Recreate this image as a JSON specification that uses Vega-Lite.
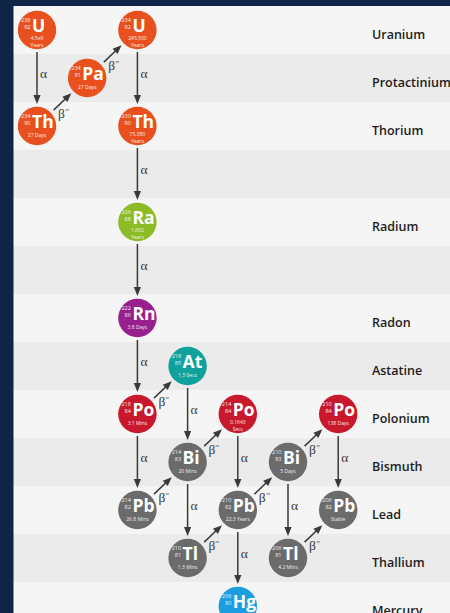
{
  "$schema": "https://vega.github.io/schema/vega-lite/v6.json",
  "width": 450,
  "height": 613,
  "padding": 0,
  "autosize": {"type": "none"},
  "background": "#0e2547",
  "config": {"view": {"stroke": null}},
  "datasets": {
    "rows": [
      {"row": 0, "label": "Uranium"},
      {"row": 1, "label": "Protactinium"},
      {"row": 2, "label": "Thorium"},
      {"row": 3, "label": ""},
      {"row": 4, "label": "Radium"},
      {"row": 5, "label": ""},
      {"row": 6, "label": "Radon"},
      {"row": 7, "label": "Astatine"},
      {"row": 8, "label": "Polonium"},
      {"row": 9, "label": "Bismuth"},
      {"row": 10, "label": "Lead"},
      {"row": 11, "label": "Thallium"},
      {"row": 12, "label": "Mercury"}
    ],
    "nuclides": [
      {"sym": "U", "mass": "238", "z": "92", "hl": "4.5e9\nYears", "col": 0, "row": 0, "element": "Uranium"},
      {"sym": "Th", "mass": "234", "z": "90", "hl": "27 Days", "col": 0, "row": 2, "element": "Thorium"},
      {"sym": "Pa", "mass": "234", "z": "91", "hl": "27 Days", "col": 1, "row": 1, "element": "Protactinium"},
      {"sym": "U", "mass": "234", "z": "92", "hl": "245,500\nYears", "col": 2, "row": 0, "element": "Uranium"},
      {"sym": "Th", "mass": "230", "z": "90", "hl": "75,380\nYears", "col": 2, "row": 2, "element": "Thorium"},
      {"sym": "Ra", "mass": "226", "z": "88", "hl": "1,602\nYears", "col": 2, "row": 4, "element": "Radium"},
      {"sym": "Rn", "mass": "222", "z": "86", "hl": "3.8 Days", "col": 2, "row": 6, "element": "Radon"},
      {"sym": "Po", "mass": "218", "z": "84", "hl": "3.1 Mins", "col": 2, "row": 8, "element": "Polonium"},
      {"sym": "At", "mass": "218", "z": "85", "hl": "1.5 Secs", "col": 3, "row": 7, "element": "Astatine"},
      {"sym": "Pb", "mass": "214", "z": "82", "hl": "26.8 Mins", "col": 2, "row": 10, "element": "Lead"},
      {"sym": "Bi", "mass": "214", "z": "83", "hl": "20 Mins", "col": 3, "row": 9, "element": "Bismuth"},
      {"sym": "Po", "mass": "214", "z": "84", "hl": "0.1643\nSecs", "col": 4, "row": 8, "element": "Polonium"},
      {"sym": "Tl", "mass": "210", "z": "81", "hl": "1.3 Mins", "col": 3, "row": 11, "element": "Thallium"},
      {"sym": "Pb", "mass": "210", "z": "82", "hl": "22.3 Years", "col": 4, "row": 10, "element": "Lead"},
      {"sym": "Bi", "mass": "210", "z": "83", "hl": "5 Days", "col": 5, "row": 9, "element": "Bismuth"},
      {"sym": "Hg", "mass": "206", "z": "80", "hl": "", "col": 4, "row": 12, "element": "Mercury"},
      {"sym": "Po", "mass": "210", "z": "84", "hl": "138 Days", "col": 6, "row": 8, "element": "Polonium"},
      {"sym": "Tl", "mass": "206", "z": "81", "hl": "4.2 Mins", "col": 5, "row": 11, "element": "Thallium"},
      {"sym": "Pb", "mass": "206", "z": "82", "hl": "Stable", "col": 6, "row": 10, "element": "Lead"}
    ],
    "alpha": [
      {"col": 0, "r1": 0, "r2": 2},
      {"col": 2, "r1": 0, "r2": 2},
      {"col": 2, "r1": 2, "r2": 4},
      {"col": 2, "r1": 4, "r2": 6},
      {"col": 2, "r1": 6, "r2": 8},
      {"col": 2, "r1": 8, "r2": 10},
      {"col": 3, "r1": 7, "r2": 9},
      {"col": 3, "r1": 9, "r2": 11},
      {"col": 4, "r1": 8, "r2": 10},
      {"col": 4, "r1": 10, "r2": 12},
      {"col": 5, "r1": 9, "r2": 11},
      {"col": 6, "r1": 8, "r2": 10}
    ],
    "beta": [
      {"c1": 0, "r1": 2, "c2": 1, "r2": 1},
      {"c1": 1, "r1": 1, "c2": 2, "r2": 0},
      {"c1": 2, "r1": 8, "c2": 3, "r2": 7},
      {"c1": 2, "r1": 10, "c2": 3, "r2": 9},
      {"c1": 3, "r1": 9, "c2": 4, "r2": 8},
      {"c1": 3, "r1": 11, "c2": 4, "r2": 10},
      {"c1": 4, "r1": 10, "c2": 5, "r2": 9},
      {"c1": 5, "r1": 9, "c2": 6, "r2": 8},
      {"c1": 5, "r1": 11, "c2": 6, "r2": 10}
    ]
  },
  "layer": [
    {
      "data": {"name": "rows"},
      "mark": {"type": "rect", "yOffset": -24, "y2Offset": 24},
      "encoding": {
        "x": {"datum": -0.468, "type": "quantitative", "scale": {"domain": [-0.737, 8.227], "nice": false, "zero": false}, "axis": null},
        "x2": {"datum": 8.3},
        "y": {"field": "row", "type": "quantitative", "scale": {"domain": [-0.625, 12.146], "reverse": true, "nice": false, "zero": false}, "axis": null},
        "y2": {"field": "row"},
        "color": {"condition": {"test": "datum.row % 2 === 1", "value": "#ebebeb"}, "value": "#f5f5f5"}
      }
    },
    {
      "data": {"name": "rows"},
      "mark": {"type": "text", "align": "left", "baseline": "alphabetic", "dy": 9.3, "font": "Open Sans", "fontWeight": 600, "fontSize": 12.5, "color": "#1c1c1c"},
      "encoding": {
        "x": {"datum": 6.673, "type": "quantitative", "scale": {"domain": [-0.737, 8.227], "nice": false, "zero": false}, "axis": null},
        "y": {"field": "row", "type": "quantitative", "scale": {"domain": [-0.625, 12.146], "reverse": true, "nice": false, "zero": false}, "axis": null},
        "text": {"field": "label"}
      }
    },
    {
      "data": {"name": "alpha"},
      "mark": {"type": "rule", "yOffset": 22, "y2Offset": -27, "color": "#3a3a3a", "strokeWidth": 1.5},
      "encoding": {
        "x": {"field": "col", "type": "quantitative", "scale": {"domain": [-0.737, 8.227], "nice": false, "zero": false}, "axis": null},
        "y": {"field": "r1", "type": "quantitative", "scale": {"domain": [-0.625, 12.146], "reverse": true, "nice": false, "zero": false}, "axis": null},
        "y2": {"field": "r2"}
      }
    },
    {
      "data": {"name": "alpha"},
      "mark": {"type": "point", "shape": "M-0.8,-1L0.8,-1L0,1Z", "size": 81, "filled": true, "opacity": 1, "color": "#3a3a3a", "yOffset": -26.5},
      "encoding": {
        "x": {"field": "col", "type": "quantitative", "scale": {"domain": [-0.737, 8.227], "nice": false, "zero": false}, "axis": null},
        "y": {"field": "r2", "type": "quantitative", "scale": {"domain": [-0.625, 12.146], "reverse": true, "nice": false, "zero": false}, "axis": null}
      }
    },
    {
      "data": {"name": "alpha"},
      "mark": {"type": "text", "text": "α", "align": "left", "baseline": "middle", "dx": 3, "dy": 44, "font": "Liberation Serif", "fontSize": 13.5, "color": "#3a3a3a"},
      "encoding": {
        "x": {"field": "col", "type": "quantitative", "scale": {"domain": [-0.737, 8.227], "nice": false, "zero": false}, "axis": null},
        "y": {"field": "r1", "type": "quantitative", "scale": {"domain": [-0.625, 12.146], "reverse": true, "nice": false, "zero": false}, "axis": null}
      }
    },
    {
      "data": {"name": "beta"},
      "mark": {"type": "rule", "xOffset": 16.6, "yOffset": -15.9, "x2Offset": -19.1, "y2Offset": 18.3, "color": "#3a3a3a", "strokeWidth": 1.5},
      "encoding": {
        "x": {"field": "c1", "type": "quantitative", "scale": {"domain": [-0.737, 8.227], "nice": false, "zero": false}, "axis": null},
        "x2": {"field": "c2"},
        "y": {"field": "r1", "type": "quantitative", "scale": {"domain": [-0.625, 12.146], "reverse": true, "nice": false, "zero": false}, "axis": null},
        "y2": {"field": "r2"}
      }
    },
    {
      "data": {"name": "beta"},
      "mark": {"type": "point", "shape": "M-0.8,-1L0.8,-1L0,1Z", "size": 81, "filled": true, "opacity": 1, "color": "#3a3a3a", "xOffset": -19.1, "yOffset": 18.3, "angle": 226.3},
      "encoding": {
        "x": {"field": "c2", "type": "quantitative", "scale": {"domain": [-0.737, 8.227], "nice": false, "zero": false}, "axis": null},
        "y": {"field": "r2", "type": "quantitative", "scale": {"domain": [-0.625, 12.146], "reverse": true, "nice": false, "zero": false}, "axis": null}
      }
    },
    {
      "data": {"name": "beta"},
      "mark": {"type": "text", "text": "β⁻", "align": "left", "baseline": "middle", "dx": 21, "dy": -12, "font": "Liberation Serif", "fontSize": 13.5, "color": "#3a3a3a"},
      "encoding": {
        "x": {"field": "c1", "type": "quantitative", "scale": {"domain": [-0.737, 8.227], "nice": false, "zero": false}, "axis": null},
        "y": {"field": "r1", "type": "quantitative", "scale": {"domain": [-0.625, 12.146], "reverse": true, "nice": false, "zero": false}, "axis": null}
      }
    },
    {
      "data": {"name": "nuclides"},
      "mark": {"type": "point", "shape": "circle", "size": 1480, "filled": true, "opacity": 1},
      "encoding": {
        "x": {"field": "col", "type": "quantitative", "scale": {"domain": [-0.737, 8.227], "nice": false, "zero": false}, "axis": null},
        "y": {"field": "row", "type": "quantitative", "scale": {"domain": [-0.625, 12.146], "reverse": true, "nice": false, "zero": false}, "axis": null},
        "color": {"field": "element", "type": "nominal", "legend": null, "scale": {"domain": ["Uranium", "Protactinium", "Thorium", "Radium", "Radon", "Astatine", "Polonium", "Bismuth", "Lead", "Thallium", "Mercury"], "range": ["#e8511f", "#e8511f", "#e8511f", "#8cbb26", "#98208c", "#11a19d", "#c8192c", "#6b6b6b", "#6b6b6b", "#6b6b6b", "#1b9de0"]}}
      }
    },
    {
      "data": {"name": "nuclides"},
      "mark": {"type": "text", "align": "left", "baseline": "alphabetic", "dx": -5, "dy": 2.5, "font": "Open Sans", "fontWeight": "bold", "fontSize": 17.5, "color": "#ffffff"},
      "encoding": {
        "x": {"field": "col", "type": "quantitative", "scale": {"domain": [-0.737, 8.227], "nice": false, "zero": false}, "axis": null},
        "y": {"field": "row", "type": "quantitative", "scale": {"domain": [-0.625, 12.146], "reverse": true, "nice": false, "zero": false}, "axis": null},
        "text": {"field": "sym"}
      }
    },
    {
      "data": {"name": "nuclides"},
      "mark": {"type": "text", "align": "right", "baseline": "middle", "dx": -6.5, "dy": -10, "font": "Open Sans", "fontSize": 5.5, "color": "#ffffff", "opacity": 0.9},
      "encoding": {
        "x": {"field": "col", "type": "quantitative", "scale": {"domain": [-0.737, 8.227], "nice": false, "zero": false}, "axis": null},
        "y": {"field": "row", "type": "quantitative", "scale": {"domain": [-0.625, 12.146], "reverse": true, "nice": false, "zero": false}, "axis": null},
        "text": {"field": "mass"}
      }
    },
    {
      "data": {"name": "nuclides"},
      "mark": {"type": "text", "align": "right", "baseline": "middle", "dx": -6.5, "dy": -2.5, "font": "Open Sans", "fontSize": 5.5, "color": "#ffffff", "opacity": 0.9},
      "encoding": {
        "x": {"field": "col", "type": "quantitative", "scale": {"domain": [-0.737, 8.227], "nice": false, "zero": false}, "axis": null},
        "y": {"field": "row", "type": "quantitative", "scale": {"domain": [-0.625, 12.146], "reverse": true, "nice": false, "zero": false}, "axis": null},
        "text": {"field": "z"}
      }
    },
    {
      "data": {"name": "nuclides"},
      "transform": [{"filter": "!test(/\\n/, datum.hl)"}],
      "mark": {"type": "text", "align": "center", "baseline": "middle", "dy": 9.5, "font": "Open Sans", "fontSize": 5, "color": "#ffffff", "opacity": 0.9},
      "encoding": {
        "x": {"field": "col", "type": "quantitative", "scale": {"domain": [-0.737, 8.227], "nice": false, "zero": false}, "axis": null},
        "y": {"field": "row", "type": "quantitative", "scale": {"domain": [-0.625, 12.146], "reverse": true, "nice": false, "zero": false}, "axis": null},
        "text": {"field": "hl"}
      }
    },
    {
      "data": {"name": "nuclides"},
      "transform": [{"filter": "test(/\\n/, datum.hl)"}],
      "mark": {"type": "text", "align": "center", "baseline": "middle", "dy": 8.3, "lineBreak": "\n", "lineHeight": 6.3, "font": "Open Sans", "fontSize": 5, "color": "#ffffff", "opacity": 0.9},
      "encoding": {
        "x": {"field": "col", "type": "quantitative", "scale": {"domain": [-0.737, 8.227], "nice": false, "zero": false}, "axis": null},
        "y": {"field": "row", "type": "quantitative", "scale": {"domain": [-0.625, 12.146], "reverse": true, "nice": false, "zero": false}, "axis": null},
        "text": {"field": "hl"}
      }
    }
  ]
}
